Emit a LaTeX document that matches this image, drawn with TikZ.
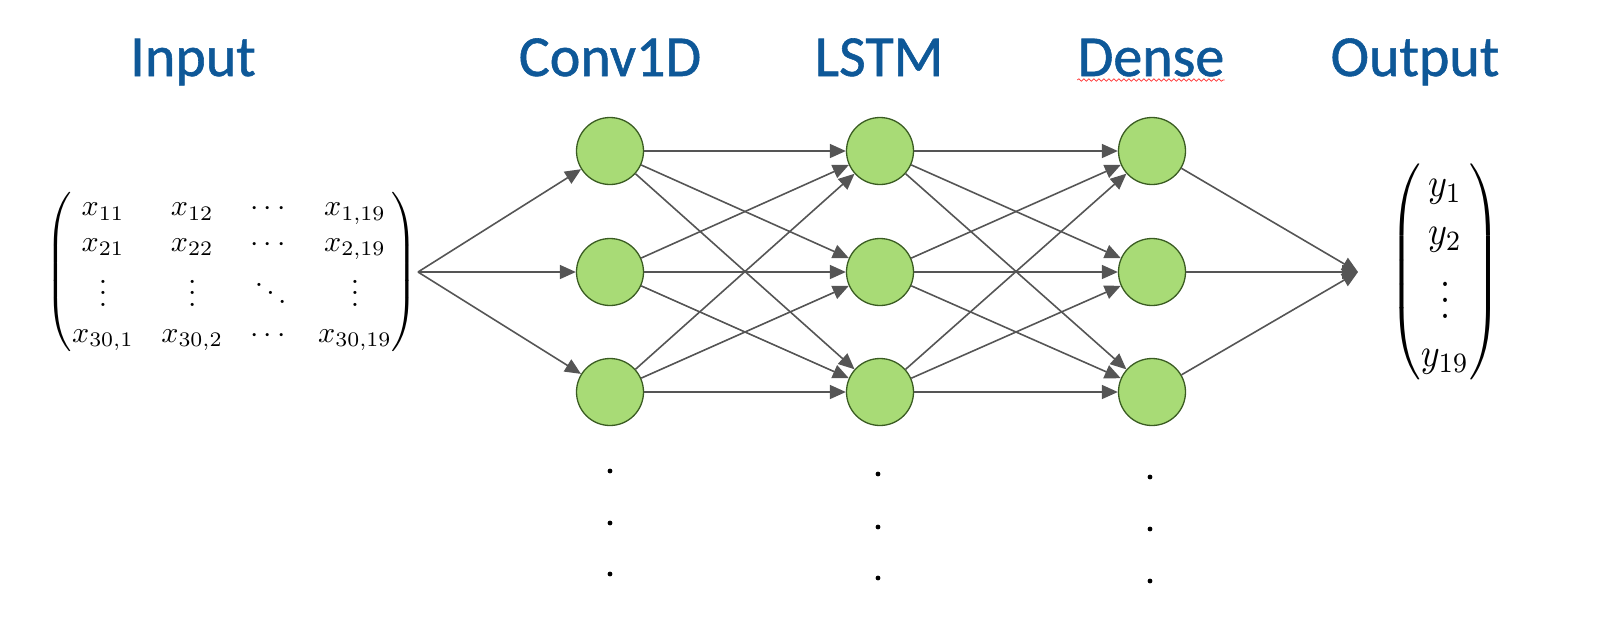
\documentclass[tikz,border=0pt]{standalone}
\usepackage{amsmath}
\usepackage{graphicx}
\usepackage{fontspec}
\usetikzlibrary{arrows.meta,decorations.pathmorphing}
\newfontfamily\titlefont[FakeBold=1]{Carlito}
\definecolor{tblue}{RGB}{14,88,152}
\definecolor{nfill}{RGB}{168,219,118}
\definecolor{ndraw}{RGB}{58,92,34}
\definecolor{edgec}{RGB}{85,85,85}
\begin{document}
\begin{tikzpicture}[x=0.5pt,y=-0.5pt,
  title/.style={font=\titlefont\fontsize{29}{34}\selectfont, text=tblue, anchor=base, inner sep=0pt},
  neuron/.style={circle, draw=ndraw, fill=nfill, line width=0.65pt, minimum size=33.5pt, inner sep=0pt},
  link/.style={draw=edgec, line width=0.8pt, -{Triangle[length=8pt,width=7pt]}},
  dotmark/.style={circle, fill=black, inner sep=0pt, minimum size=2.4pt},
  squig/.style={draw=red!80!white, line width=0.35pt, decorate, decoration={snake, amplitude=0.6pt, segment length=2.5pt}}]
\useasboundingbox (0,0) rectangle (1608,634);

% titles
\node[title] (tin)  at (193,76) {Input};
\node[title] (tcv)  at (610,76) {Conv1D};
\node[title] (tls)  at (879,76) {LSTM};
\node[title] (tde)  at (1151,76) {Dense};
\node[title] (tout) at (1415,76) {Output};
\draw[squig] ([yshift=-2pt]tde.base west) -- ([yshift=-2pt]tde.base east);

% input matrix
\node[inner sep=0pt] (mat) at (232,272) {\scalebox{1.5}[1.48]{$\setlength{\arraycolsep}{4.6pt}\begin{pmatrix}
x_{11} & x_{12} & \cdots & x_{1,19}\\
x_{21} & x_{22} & \cdots & x_{2,19}\\
\vdots & \vdots & \ddots & \vdots\\
x_{30,1} & x_{30,2} & \cdots & x_{30,19}
\end{pmatrix}$}};

% output vector
\node[inner sep=0pt] (vec) at (1445,272) {\scalebox{1.8}[2.0]{$\begin{pmatrix}
y_{1}\\ y_{2}\\ \vdots\\ y_{19}
\end{pmatrix}$}};

\coordinate (src) at (418,272);
\coordinate (dst) at (1358,272);

% neurons
\foreach \i/\y in {1/151,2/272,3/392}{
  \node[neuron] (c\i) at (610,\y) {};
  \node[neuron] (l\i) at (880,\y) {};
  \node[neuron] (d\i) at (1152,\y) {};
}

% connections
\foreach \i in {1,2,3}{
  \draw[link] (src) -- (c\i);
  \draw[link] (d\i) -- (dst);
  \foreach \j in {1,2,3}{
    \draw[link] (c\i) -- (l\j);
    \draw[link] (l\i) -- (d\j);
  }
}

% continuation dots
\node[dotmark] (ca) at (610,471) {};
\node[dotmark] (cb) at (610,523) {};
\node[dotmark] (cc) at (610,574) {};
\node[dotmark] (la) at (878,474) {};
\node[dotmark] (lb) at (878,527) {};
\node[dotmark] (lc) at (878,578) {};
\node[dotmark] (da) at (1150,477) {};
\node[dotmark] (db) at (1150,529) {};
\node[dotmark] (dc) at (1150,581) {};
\end{tikzpicture}
\end{document}
